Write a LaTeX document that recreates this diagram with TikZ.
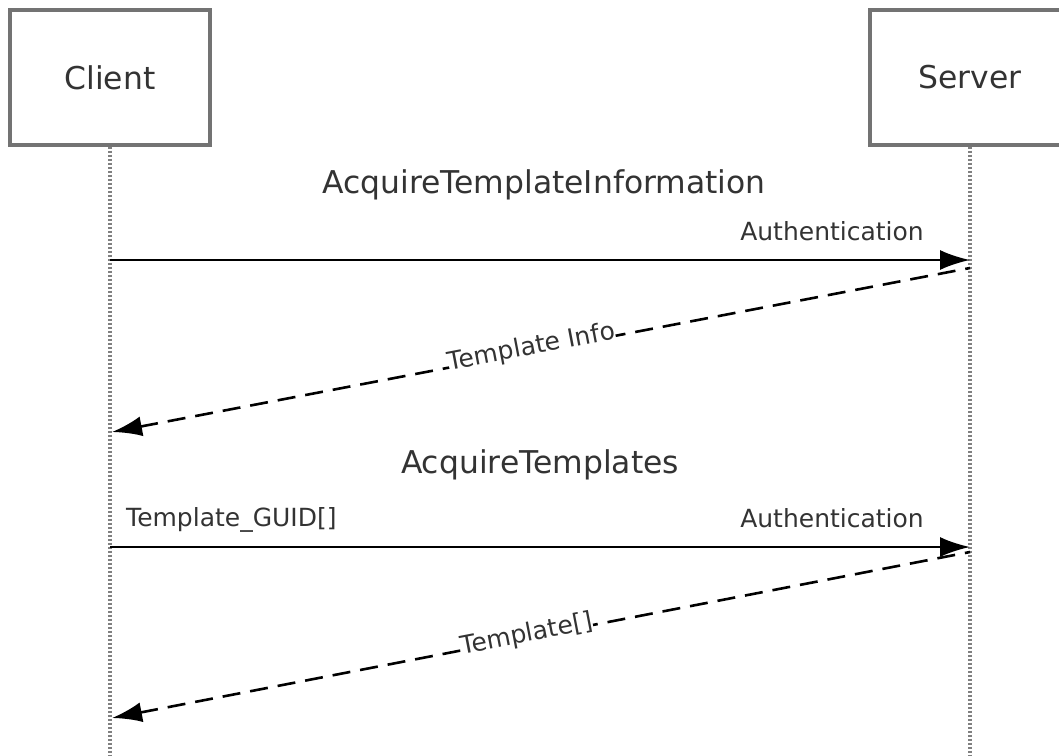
\documentclass[tikz,border=0pt]{standalone}
\usepackage{fontspec}
\setmainfont{DejaVu Sans}
\usetikzlibrary{positioning,arrows.meta,calc}

\tikzset{
	actor/.style={draw=black!55, line width=1.7pt, fill=white,
		minimum width=100pt, minimum height=67.5pt,
		font=\fontsize{15.7}{18}\selectfont, text=black!80},
	lifeline/.style={draw=black!50, line width=1.7pt, dash pattern=on 1pt off 1pt},
	msg/.style={line width=1.2pt, -{Latex[length=15pt,width=10pt]}},
	reply/.style={line width=1.3pt, {Latex[length=15pt,width=10pt]}-, dash pattern=on 9pt off 5pt},
	title/.style={font=\fontsize{15.7}{18}\selectfont, text=black!80},
	lbl/.style={font=\fontsize{12.5}{15}\selectfont, text=black!80, inner sep=0pt},
}

\begin{document}
\begin{tikzpicture}[x=0.5pt,y=-0.5pt]
	\useasboundingbox (0,0) rectangle (1059,755);
	\clip (0,0) rectangle (1059,755);

	\node[actor] (client) at (110,77.5) {Client};
	\node[actor] (server) at (970,77.5) {Server};
	\coordinate (cend) at (110,755);
	\coordinate (send) at (970,755);
	\draw[lifeline] (client.south) -- (cend);
	\draw[lifeline] (server.south) -- (send);

	% first request
	\node[title] (info) at (544,185) {AcquireTemplateInformation};
	\coordinate (c1) at (110,260);
	\coordinate (s1) at (970,260);
	\draw[msg] (c1) -- node[lbl, at end, anchor=base east,
		xshift=-22.5pt, yshift=10pt] (auth1) {Authentication} (s1);
	\coordinate (s2) at (970,268);
	\coordinate (c2) at (112,432);
	\draw[reply] (c2) -- node[lbl, sloped, fill=white, pos=0.49,
		yshift=2pt] (tinfo) {Template Info} (s2);

	% second request
	\node[title] (tmpl) at (540,465) {AcquireTemplates};
	\coordinate (c3) at (110,547);
	\coordinate (s3) at (970,547);
	\draw[msg] (c3) -- node[lbl, at start, anchor=base west,
		xshift=7.5pt, yshift=10.5pt] (guid) {Template\_GUID[]}
		node[lbl, at end, anchor=base east,
		xshift=-22.5pt, yshift=10pt] (auth2) {Authentication} (s3);
	\coordinate (s4) at (970,552);
	\coordinate (c4) at (112,718);
	\draw[reply] (c4) -- node[lbl, sloped, fill=white, pos=0.484,
		yshift=1.5pt] (tlist) {Template[]} (s4);
\end{tikzpicture}
\end{document}
